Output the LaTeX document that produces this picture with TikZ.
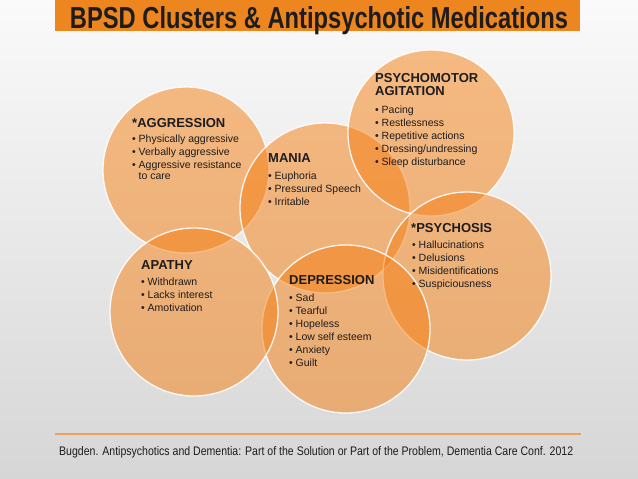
\documentclass[tikz,border=0pt]{standalone}
\usepackage{fontspec}
\usepackage{graphicx}
\setmainfont{Liberation Sans}
\definecolor{barorange}{RGB}{238,134,32}
\definecolor{circorange}{RGB}{245,125,15}
\definecolor{txtdark}{RGB}{30,28,28}
\definecolor{footline}{RGB}{236,160,90}
\definecolor{bgtop}{RGB}{250,250,250}
\definecolor{bgbot}{RGB}{214,214,214}
\newcommand\bl[1]{\makebox[6.5pt][l]{\textbullet}#1}
\newcommand\ind[1]{\hspace*{6.5pt}#1}
\tikzset{
  bubble/.style={circle, inner sep=0pt, fill=circorange, fill opacity=0.5, draw=white, draw opacity=0.9, line width=1.3pt},
  headtxt/.style={anchor=base west, inner sep=0pt, text=txtdark, font=\fontsize{13}{13}\selectfont\bfseries},
  listtxt/.style={anchor=base west, inner sep=0pt, text=txtdark, font=\fontsize{10.5}{13}\selectfont}
}
\begin{document}
\begin{tikzpicture}[x=1pt,y=-1pt]
\useasboundingbox (0,0) rectangle (638,479);
\fill[top color=bgtop, bottom color=bgbot] (0,0) rectangle (638,479);
% title bar
\fill[barorange] (55,0) rectangle (580,31);
\node[anchor=base, inner sep=0pt, text=txtdark] (title) at (319,28)
  {\resizebox{498pt}{22pt}{\bfseries BPSD Clusters \& Antipsychotic Medications}};
% circles
\node[bubble, minimum size=166pt] (c1) at (186,170) {};
\node[bubble, minimum size=170pt] (c2) at (325,208) {};
\node[bubble, minimum size=166pt] (c3) at (431,133) {};
\node[bubble, minimum size=168pt] (c4) at (467,276) {};
\node[bubble, minimum size=168pt] (c5) at (346,329) {};
\node[bubble, minimum size=168pt] (c6) at (194,312) {};
% aggression
\node[headtxt] (h1) at (132,127) {*AGGRESSION};
\node[listtxt] (l1) at (132,142) {\begin{tabular}[t]{@{}l@{}}
\bl{Physically aggressive}\\
\bl{Verbally aggressive}\\
\bl{Aggressive resistance}\\[-2pt]
\ind{to care}
\end{tabular}};
% mania
\node[headtxt] (h2) at (268,162) {MANIA};
\node[listtxt] (l2) at (268,179) {\begin{tabular}[t]{@{}l@{}}
\bl{Euphoria}\\
\bl{Pressured Speech}\\
\bl{Irritable}
\end{tabular}};
% psychomotor
\node[headtxt] (h3) at (375,82) {\begin{tabular}[t]{@{}l@{}}PSYCHOMOTOR\\AGITATION\end{tabular}};
\node[listtxt] (l3) at (375,113) {\begin{tabular}[t]{@{}l@{}}
\bl{Pacing}\\
\bl{Restlessness}\\
\bl{Repetitive actions}\\
\bl{Dressing/undressing}\\
\bl{Sleep disturbance}
\end{tabular}};
% psychosis
\node[headtxt] (h4) at (411,232) {*PSYCHOSIS};
\node[listtxt] (l4) at (412,248) {\begin{tabular}[t]{@{}l@{}}
\bl{Hallucinations}\\
\bl{Delusions}\\
\bl{Misidentifications}\\
\bl{Suspiciousness}
\end{tabular}};
% depression
\node[headtxt] (h5) at (289,284) {DEPRESSION};
\node[listtxt] (l5) at (289,301) {\begin{tabular}[t]{@{}l@{}}
\bl{Sad}\\
\bl{Tearful}\\
\bl{Hopeless}\\
\bl{Low self esteem}\\
\bl{Anxiety}\\
\bl{Guilt}
\end{tabular}};
% apathy
\node[headtxt] (h6) at (141,269) {APATHY};
\node[listtxt] (l6) at (141,285) {\begin{tabular}[t]{@{}l@{}}
\bl{Withdrawn}\\
\bl{Lacks interest}\\
\bl{Amotivation}
\end{tabular}};
% footer
\coordinate (fl1) at (55,434);
\coordinate (fl2) at (581,434);
\draw[footline, line width=2pt] (fl1) -- (fl2);
\node[anchor=base west, inner sep=0pt, text=txtdark] (foot) at (59,455)
  {\resizebox{514pt}{9pt}{\fontsize{12}{14}\selectfont Bugden. Antipsychotics and Dementia: Part of the Solution or Part of the Problem, Dementia Care Conf. 2012}};
\end{tikzpicture}
\end{document}
